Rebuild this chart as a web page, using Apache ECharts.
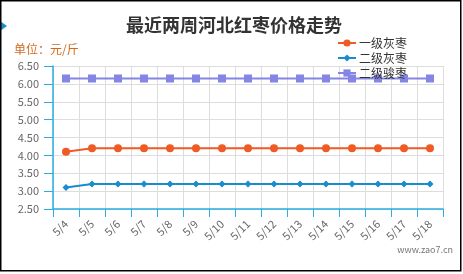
<!DOCTYPE html>
<html><head><meta charset="utf-8">
<script src="https://cdn.jsdelivr.net/npm/echarts@6/dist/echarts.min.js"></script>
<style>html,body{margin:0;padding:0;background:#fff}#c{width:463px;height:274px}</style>
</head><body><div id="c"></div>
<script>
var categories = ['5/4','5/5','5/6','5/7','5/8','5/9','5/10','5/11','5/12','5/13','5/14','5/15','5/16','5/17','5/18'];
var grade1Hui = [4.1,4.2,4.2,4.2,4.2,4.2,4.2,4.2,4.2,4.2,4.2,4.2,4.2,4.2,4.2];
var grade2Hui = [3.1,3.2,3.2,3.2,3.2,3.2,3.2,3.2,3.2,3.2,3.2,3.2,3.2,3.2,3.2];
var grade2Jun = [6.15,6.15,6.15,6.15,6.15,6.15,6.15,6.15,6.15,6.15,6.15,6.15,6.15,6.15,6.15];
var seriesNames = ['一级灰枣','二级灰枣','二级骏枣'];
var chart = echarts.init(document.getElementById('c'));
var font = '"Noto Sans CJK SC", "Noto Sans", sans-serif';
chart.setOption({
  animation:false,
  textStyle:{fontFamily:font},
  title:{text:'最近两周河北红枣价格走势', left:229, textAlign:'center', top:11,
    textStyle:{fontSize:18, fontWeight:'bold', color:'#333', fontFamily:font}},
  legend:{orient:'vertical', left:332, top:32, itemGap:3, itemWidth:18, itemHeight:9,
    data:seriesNames, textStyle:{fontSize:12, color:'#333', padding:[0,0,0,-2]}},
  grid:{left:53, top:66, right:20, bottom:65},
  xAxis:{type:'category', data:categories, boundaryGap:true,
    axisLine:{lineStyle:{color:'#29aee3', width:1.5}},
    axisTick:{show:true, length:8, lineStyle:{color:'#29aee3'}},
    axisLabel:{rotate:45, color:'#666', fontSize:11, margin:13, interval:0},
    splitLine:{show:true, lineStyle:{color:'#ddd'}}},
  yAxis:{type:'value', min:2.5, max:6.5, interval:0.5,
    axisLine:{show:true, lineStyle:{color:'#29aee3', width:1.5}},
    axisTick:{show:true, length:9, lineStyle:{color:'#29aee3'}},
    axisLabel:{color:'#666', fontSize:11, margin:14, formatter:function(v){return v.toFixed(2);}},
    splitLine:{show:true, lineStyle:{color:'#ddd'}}},
  series:[
    {name:seriesNames[0], type:'line', data:grade1Hui, symbol:'circle', symbolSize:8,
      itemStyle:{color:'#f05a24'}, lineStyle:{width:2, color:'#f05a24'}},
    {name:seriesNames[1], type:'line', data:grade2Hui, symbol:'diamond', symbolSize:7,
      itemStyle:{color:'#1a8ccb'}, lineStyle:{width:2, color:'#1a8ccb'}},
    {name:seriesNames[2], type:'line', data:grade2Jun, symbol:'rect', symbolSize:8,
      itemStyle:{color:'#8585e6'}, lineStyle:{width:2, color:'#8585e6'}}
  ],
  graphic:[
    {type:'rect', shape:{x:0.75, y:0.75, width:460, height:270}, style:{fill:'none', stroke:'#000', lineWidth:1.5}, z:100},
    {type:'polygon', shape:{points:[[0,21],[7,26],[0,31]]}, style:{fill:'#1a8ccb'}},
    {type:'text', left:14, top:43, style:{text:'单位：元/斤', fill:'#d2691e', font:'12px '+font}},
    {type:'text', right:10, top:245, style:{text:'www.zao7.cn', fill:'#777', font:'9px '+font}}
  ]
});
</script></body></html>
